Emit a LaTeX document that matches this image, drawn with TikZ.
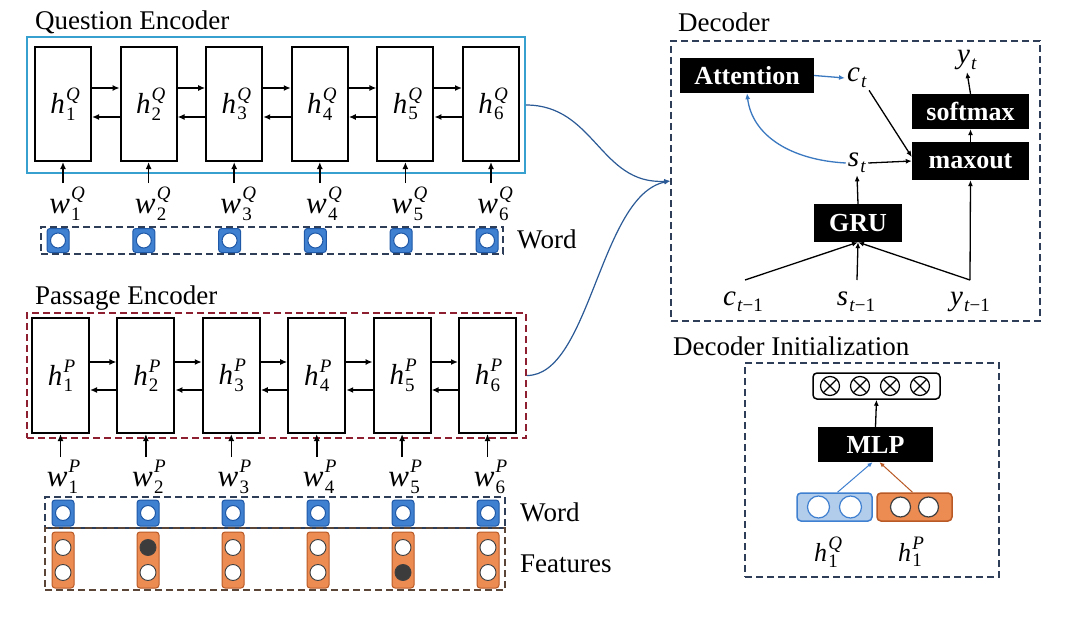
\documentclass[tikz,border=0pt]{standalone}
\usepackage{fontspec}
\setmainfont{Liberation Serif}
\usetikzlibrary{arrows.meta}
\definecolor{qblue}{HTML}{38A0CF}
\definecolor{pred}{HTML}{8E1F30}
\definecolor{navy}{HTML}{2E3D58}
\definecolor{linkblue}{HTML}{2B5A96}
\definecolor{attblue}{HTML}{3A78C0}
\definecolor{iconblue}{HTML}{3F80D0}
\definecolor{icondark}{HTML}{1E58A6}
\definecolor{iconorange}{HTML}{EC8B52}
\definecolor{orangedark}{HTML}{B95A26}
\definecolor{featbrown}{HTML}{5A4536}
\definecolor{dotgray}{HTML}{3C3C3C}
\newcommand{\mfont}{\fontsize{29}{30}\selectfont}
\newcommand{\tfont}{\fontsize{27}{30}\selectfont}
\newcommand{\bfont}{\fontsize{26}{28}\selectfont\bfseries}
% symbol with subscript (#2) and superscript (#3)
\newcommand{\sv}[3]{{\itshape #1}\kern0.04em\rlap{\raisebox{0.45em}{\fontsize{19}{19}\selectfont #3}}\raisebox{-0.22em}{\fontsize{19}{19}\selectfont #2}}
\begin{document}
\begin{tikzpicture}[x=1pt,y=-1pt,
  title/.style={anchor=base west, inner sep=0pt, font=\tfont},
  qcell/.style={draw, line width=2pt, minimum width=56pt, minimum height=114pt, inner sep=0pt, font=\mfont},
  pcell/.style={draw, line width=2pt, minimum width=57pt, minimum height=115pt, inner sep=0pt, font=\mfont},
  arr/.style={-{Latex[length=7pt,width=6pt]}, line width=1.6pt},
  thinarr/.style={-{Latex[length=6pt,width=5pt]}, line width=1.3pt},
  wlab/.style={font=\fontsize{31}{32}\selectfont, inner sep=0pt, outer ysep=4pt, anchor=north},
  dlab/.style={font=\fontsize{29}{30}\selectfont, inner sep=2pt},
  dbox/.style={draw=navy, line width=1.5pt, dash pattern=on 7pt off 4pt, inner sep=0pt},
  blk/.style={fill=black, text=white, font=\bfont, inner sep=0pt},
  wicon/.style={draw=icondark, line width=1pt, fill=iconblue, rounded corners=3pt,
    minimum width=22pt, minimum height=24pt, inner sep=0pt,
    path picture={\draw[icondark, fill=white, line width=1pt] (path picture bounding box.center) circle (7.5pt);}},
  ficon/.style 2 args={draw=orangedark, line width=1pt, fill=iconorange, rounded corners=3pt,
    minimum width=22pt, minimum height=56pt, inner sep=0pt,
    path picture={
      \draw[black!75, fill=#1, line width=0.9pt] ([yshift=12.5pt]path picture bounding box.center) circle (8pt);
      \draw[black!75, fill=#2, line width=0.9pt] ([yshift=-12.5pt]path picture bounding box.center) circle (8pt);}},
  otimes/.style={circle, draw, line width=1.2pt, minimum size=19pt, inner sep=0pt,
    path picture={\draw[line width=1.1pt] ([shift={(-6.7pt,6.7pt)}]path picture bounding box.center) -- ([shift={(6.7pt,-6.7pt)}]path picture bounding box.center)
      ([shift={(6.7pt,6.7pt)}]path picture bounding box.center) -- ([shift={(-6.7pt,-6.7pt)}]path picture bounding box.center);}}
]
\useasboundingbox[fill=white] (0,0) rectangle (1072,618);

% ---------------- Question encoder ----------------
\node[title] (tq) at (35,30) {Question Encoder};
\node[draw=qblue, line width=1.8pt, minimum width=498pt, minimum height=136pt, inner sep=0pt] (qo) at (276,105) {};
\foreach \i in {1,...,6} {
  \node[qcell] (q\i) at ({63+85.6*(\i-1)},104) {\sv{h}{\i}{\textit{Q}}};
  \node[wlab] (wq\i) at ({65+85.6*(\i-1)},183) {\sv{w}{\i}{\textit{Q}}};
  \draw[arr] (q\i.south |- wq\i.north) -- (q\i.south);
}
\foreach \i [evaluate=\i as \j using int(\i+1)] in {1,...,5} {
  \draw[arr] ([yshift=16pt]q\i.east) -- ([yshift=16pt]q\j.west);
  \draw[arr] ([yshift=-13pt]q\j.west) -- ([yshift=-13pt]q\i.east);
}
\node[dbox, minimum width=462pt, minimum height=27pt] (qword) at (272,240.5) {};
\foreach \i in {1,...,6} {
  \node[wicon] (qi\i) at ({58+85.8*(\i-1)},240.5) {};
}
\node[title] (qwl) at (517,248) {Word};

% ---------------- Passage encoder ----------------
\node[title] (tp) at (35,304) {Passage Encoder};
\node[draw=pred, line width=1.6pt, dash pattern=on 7pt off 4pt, minimum width=499pt, minimum height=125pt, inner sep=0pt] (po) at (276.5,375.5) {};
\foreach \i in {1,...,6} {
  \node[pcell] (p\i) at ({60.5+85.4*(\i-1)},375.5) {\sv{h}{\i}{\textit{P}}};
  \node[wlab, outer ysep=3pt] (wp\i) at ({62.5+85.4*(\i-1)},457) {\sv{w}{\i}{\textit{P}}};
  \draw[arr] (p\i.south |- wp\i.north) -- (p\i.south);
}
\foreach \i [evaluate=\i as \j using int(\i+1)] in {1,...,5} {
  \draw[arr] ([yshift=13.5pt]p\i.east) -- ([yshift=13.5pt]p\j.west);
  \draw[arr] ([yshift=-14.5pt]p\j.west) -- ([yshift=-14.5pt]p\i.east);
}
\node[dbox, minimum width=460pt, minimum height=31pt] (pword) at (275,512.5) {};
\node[dbox, draw=featbrown, minimum width=460pt, minimum height=62pt] (pfeat) at (275,559) {};
\foreach \i/\ta/\tb in {1/white/white, 2/dotgray/white, 3/white/white, 4/white/white, 5/white/dotgray, 6/white/white} {
  \node[wicon, minimum height=26pt] (pi\i) at ({63+85*(\i-1)},513) {};
  \node[ficon={\ta}{\tb}] (pf\i) at ({63+85*(\i-1)},560) {};
}
\node[title] (pwl) at (520,521) {Word};
\node[title] (pfl) at (520,572) {Features};

% ---------------- Decoder ----------------
\node[title] (tdec) at (678,32) {Decoder};
\node[dbox, minimum width=369pt, minimum height=280pt] (dec) at (855.5,181) {};
\node[blk, minimum width=134pt, minimum height=35pt] (att) at (747,75.5) {Attention};
\node[dlab] (ct) at (857,78) {\sv{c}{\textit{t}}{}};
\node[blk, minimum width=117pt, minimum height=35pt] (sm) at (970.5,111.5) {softmax};
\node[blk, minimum width=117pt, minimum height=38pt] (mx) at (970.5,161) {maxout};
\node[dlab] (yt) at (967,60) {\sv{y}{\textit{t}}{}};
\node[dlab] (st) at (857,163) {\sv{s}{\textit{t}}{}};
\node[blk, minimum width=88pt, minimum height=38pt] (gru) at (858,223) {GRU};
\node[dlab] (ctm1) at (743,302) {\sv{c}{\textit{t}−1}{}};
\node[dlab] (stm1) at (856,302) {\sv{s}{\textit{t}−1}{}};
\node[dlab] (ytm1) at (970,302) {\sv{y}{\textit{t}−1}{}};
\coordinate (cin) at (745,280);
\coordinate (sin) at (857,280);
\coordinate (yin) at (970,280);

\draw[thinarr, attblue] (att.east) -- (ct.west);
\draw[thinarr, attblue] (st.west) .. controls (790,160) and (752,135) .. (att.south);
\draw[thinarr] (ct.south east) -- ([yshift=4pt]mx.west);
\draw[thinarr] (st.east) -- (mx.west);
\draw[thinarr] (gru.north) -- (st.south);
\draw[thinarr] (mx.north) -- (sm.south);
\draw[thinarr] (sm.north) -- (yt.south);
\draw[thinarr] (cin) -- (gru.south);
\draw[thinarr] (sin) -- (gru.south);
\draw[thinarr] (yin) -- (gru.south);
\draw[thinarr] (yin) -- (mx.south);

% encoder -> decoder
\draw[thinarr, linkblue, line width=1.2pt] (qo.east) .. controls (595,105) and (600,185) .. (dec.west);
\draw[thinarr, linkblue, line width=1.2pt] (po.east) .. controls (590,376) and (600,195) .. (dec.west);

% ---------------- Decoder initialization ----------------
\node[title] (tinit) at (673,355) {Decoder Initialization};
\node[dbox, minimum width=254pt, minimum height=214pt] (init) at (872,470) {};
\node[draw, line width=1.5pt, rounded corners=4pt, minimum width=127pt, minimum height=26pt, inner sep=0pt] (outv) at (876.5,386) {};
\foreach \k in {0,...,3} {
  \node[otimes] (o\k) at ({830+30*\k},386) {};
}
\node[blk, minimum width=115pt, minimum height=35pt] (mlp) at (875.5,444.5) {MLP};
\node[draw=iconblue, line width=1.5pt, fill=iconblue!40, rounded corners=4pt, minimum width=75pt, minimum height=28pt, inner sep=0pt,
  path picture={
    \draw[iconblue, fill=white, line width=1.2pt] ([xshift=-16pt]path picture bounding box.center) circle (11pt);
    \draw[iconblue, fill=white, line width=1.2pt] ([xshift=16pt]path picture bounding box.center) circle (11pt);}] (hqi) at (834.5,507) {};
\node[draw=orangedark, line width=1.5pt, fill=iconorange, rounded corners=4pt, minimum width=75pt, minimum height=28pt, inner sep=0pt,
  path picture={
    \draw[black!75, fill=white, line width=1.2pt] ([xshift=-14pt]path picture bounding box.center) circle (10pt);
    \draw[black!75, fill=white, line width=1.2pt] ([xshift=14pt]path picture bounding box.center) circle (10pt);}] (hpi) at (914.5,507) {};
\node[font=\fontsize{26}{27}\selectfont] (hq1) at (826,552) {\sv{h}{1}{\textit{Q}}};
\node[font=\fontsize{26}{27}\selectfont] (hp1) at (910,552) {\sv{h}{1}{\textit{P}}};
\draw[thinarr] (mlp.north) -- (outv.south);
\draw[-{Latex[length=5pt,width=4.5pt]}, line width=1pt, iconblue] ([xshift=3pt]hqi.north) -- ([xshift=-3pt]mlp.south);
\draw[-{Latex[length=5pt,width=4.5pt]}, line width=1pt, orangedark] ([xshift=-2pt]hpi.north) -- ([xshift=4pt]mlp.south);
\end{tikzpicture}
\end{document}
